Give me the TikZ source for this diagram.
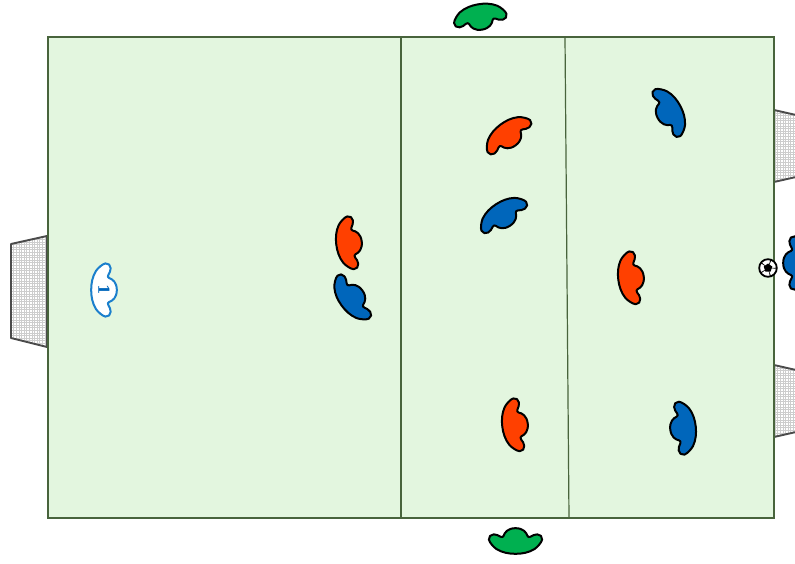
\documentclass[tikz,border=0pt]{standalone}
\usepackage{fontspec}
\newfontfamily\numfont{DejaVu Serif}
\usepackage{tikz}
\usetikzlibrary{positioning}
\definecolor{pitchgreen}{RGB}{227,246,223}
\definecolor{pitchline}{RGB}{72,100,60}
\definecolor{goalline}{RGB}{75,75,75}
\definecolor{goalnet}{RGB}{205,205,205}
\definecolor{redteam}{RGB}{255,64,0}
\definecolor{blueteam}{RGB}{0,102,187}
\definecolor{greenteam}{RGB}{0,176,80}
\definecolor{keeperblue}{RGB}{27,127,204}
\tikzset{
  goalframe/.style={draw=goalline, line width=1.9pt, line join=round},
  netline/.style={draw=goalnet, line width=0.5pt},
  playerline/.style={draw=black},
  player/.pic={
    \path[scale=0.95, playerline, line width=2pt, line join=round, pic actions] (0,13.5)
      .. controls (8,13.5) and (11.5,9) .. (12.5,5.5)
      .. controls (13,3.8) and (14.5,3.8) .. (16,4.6)
      .. controls (18,5.8) and (20,7) .. (23,7)
      .. controls (26,7) and (28.5,4.5) .. (28,1.5)
      .. controls (27.5,-1.5) and (23,-6.5) .. (20,-8.5)
      .. controls (14,-12.2) and (7,-13.5) .. (0,-13.5)
      .. controls (-7,-13.5) and (-14,-12.2) .. (-20,-8.5)
      .. controls (-23,-6.5) and (-27.5,-1.5) .. (-28,1.5)
      .. controls (-28.5,4.5) and (-26,7) .. (-23,7)
      .. controls (-20,7) and (-18,5.8) .. (-16,4.6)
      .. controls (-14.5,3.8) and (-13,3.8) .. (-12.5,5.5)
      .. controls (-11.5,9) and (-8,13.5) .. (0,13.5) -- cycle;
  }
}
\begin{document}
\begin{tikzpicture}[x=1pt,y=1pt]
  \clip (0,0) rectangle (795,563);
  % goals
  \begin{scope}
    \clip (47,327) -- (11,319) -- (11,225) -- (47,216) -- cycle;
    \foreach \x in {11,13.6,...,47} \draw[netline] (\x,210) -- (\x,330);
    \foreach \y in {212,214.6,...,330} \draw[netline] (8,\y) -- (50,\y);
  \end{scope}
  \draw[goalframe] (47,327) -- (11,319) -- (11,225) -- (47,216) -- cycle;
  \begin{scope}
    \clip (774,453) -- (796,448) -- (796,386) -- (774,381) -- cycle;
    \foreach \x in {775,777.6,...,796} \draw[netline] (\x,375) -- (\x,455);
    \foreach \y in {380,382.6,...,455} \draw[netline] (772,\y) -- (797,\y);
  \end{scope}
  \draw[goalframe] (796,448) -- (774,453) -- (774,381) -- (796,386);
  \begin{scope}
    \clip (774,198) -- (796,193) -- (796,131) -- (774,126) -- cycle;
    \foreach \x in {775,777.6,...,796} \draw[netline] (\x,120) -- (\x,200);
    \foreach \y in {125,127.6,...,200} \draw[netline] (772,\y) -- (797,\y);
  \end{scope}
  \draw[goalframe] (796,193) -- (774,198) -- (774,126) -- (796,131);
  % pitch
  \draw[pitchline, fill=pitchgreen, line width=1.2pt] (48,526) rectangle (774,45);
  \draw[pitchline, line width=1.2pt] (401,526) -- (401,45);
  \draw[pitchline, line width=1.2pt] (565,526) -- (569,45);
  % players
  \pic[rotate=190, fill=greenteam] at (480,546) {player};
  \pic[rotate=0, fill=greenteam] at (515.5,22) {player};
  \pic[rotate=217, fill=redteam] at (508,428) {player};
  \pic[rotate=213, fill=blueteam] at (503,348) {player};
  \pic[rotate=-83, fill=redteam] at (349,320) {player};
  \pic[rotate=-54, fill=blueteam] at (352,265) {player};
  \pic[rotate=-83, fill=redteam] at (631,285) {player};
  \pic[rotate=-83, fill=redteam] at (515,138) {player};
  \pic[rotate=118, fill=blueteam] at (669,451) {player};
  \pic[rotate=96, fill=blueteam] at (683,135) {player};
  \pic[rotate=90, fill=blueteam] at (796,300) {player};
  % keeper
  \pic[rotate=-90, fill=white, playerline/.style={draw=keeperblue}] at (104,273) {player};
  \node[rotate=-90, text=blueteam, font=\numfont\bfseries\fontsize{15}{15}\selectfont, inner sep=0pt] (keepernum) at (104,273) {1};
  % ball
  \draw[black, fill=white, line width=1.8pt] (768,295) circle (8.8);
  \fill[black] (768,299.5) -- (772.3,296.4) -- (770.6,291.4) -- (765.4,291.4) -- (763.7,296.4) -- cycle;
  \foreach \a in {90,162,234,306,18} \fill[black] (768,295) ++(\a-16:9) -- ++(\a+180:1) -- ++(\a-70:1) -- (768,295) ++(\a+16:9) -- cycle;
\end{tikzpicture}
\end{document}
